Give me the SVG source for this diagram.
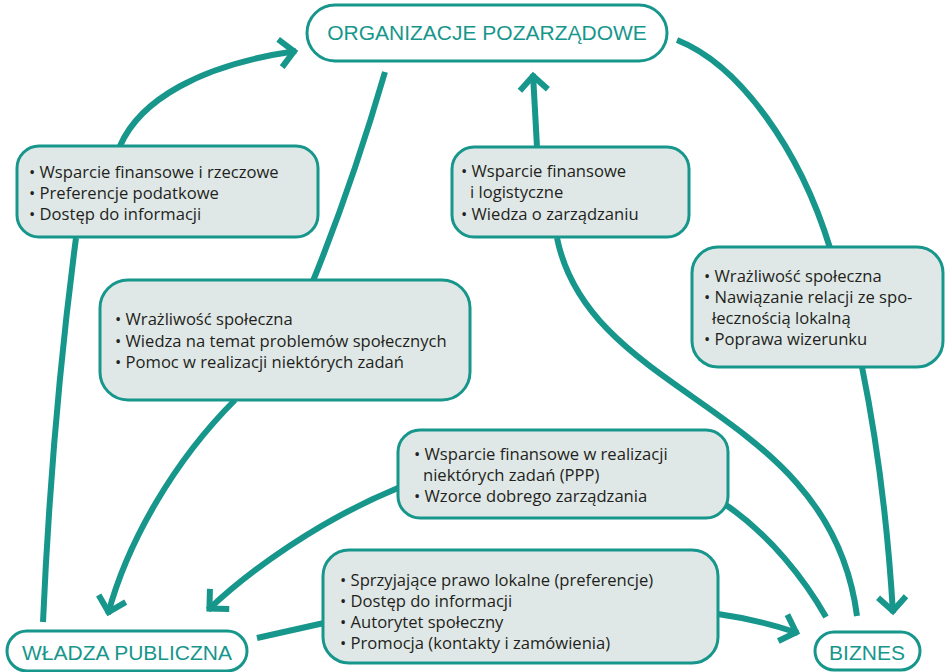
<svg xmlns="http://www.w3.org/2000/svg" width="945" height="672" viewBox="0 0 945 672">
  <style>
    .hub { fill: #ffffff; stroke: #17968c; stroke-width: 3; }
    .hub-label { font-family: "Liberation Sans", Arial, sans-serif; font-size: 21px; fill: #17968c; }
    .box { fill: #dfe8e6; stroke: #17968c; stroke-width: 3; }
    .item { font-family: "Open Sans", "Noto Sans", sans-serif; font-size: 16.6px; fill: #231f20; }
    .link { fill: none; stroke: #17968c; stroke-width: 6; }
  </style>
  <defs>
    <marker id="chevron" markerUnits="userSpaceOnUse" markerWidth="44" markerHeight="44" viewBox="-22 -22 44 44" refX="2" refY="0" orient="auto">
      <path d="M-14,-14 L0,0 L-14,14" fill="none" stroke="#17968c" stroke-width="6" stroke-linejoin="miter"/>
    </marker>
  </defs>

  <!-- connectors -->
  <g id="connectors">
    <path class="link" d="M120,146 C140,100 200,65 296,51" marker-end="url(#chevron)"/>
    <path class="link" d="M43,622 Q52,420 76,238"/>
    <path class="link" d="M385,72 Q352,185 313,281"/>
    <path class="link" d="M235,400 C175,460 128,540 108,614" marker-end="url(#chevron)"/>
    <path class="link" d="M398,488 C320,520 250,570 208,610" marker-end="url(#chevron)"/>
    <path class="link" d="M257,638 L324,623"/>
    <path class="link" d="M718,614 Q760,620 798,633" marker-end="url(#chevron)"/>
    <path class="link" d="M726,505 C770,535 805,580 826,617"/>
    <path class="link" d="M557,238 C590,400 830,405 857,616"/>
    <path class="link" d="M677,40 C740,65 800,150 830,248"/>
    <path class="link" d="M862,367 Q885,480 893,613" marker-end="url(#chevron)"/>
    <path class="link" d="M537,147 Q535,110 533,74" marker-end="url(#chevron)"/>
  </g>

  <!-- hub nodes -->
  <g id="ngo">
    <rect class="hub" x="307" y="5" width="360" height="56" rx="28"/>
    <text class="hub-label" x="487" y="40" text-anchor="middle">ORGANIZACJE POZARZĄDOWE</text>
  </g>
  <g id="public-authority">
    <rect class="hub" x="7" y="631" width="240" height="40" rx="20"/>
    <text class="hub-label" x="127" y="660" text-anchor="middle">WŁADZA PUBLICZNA</text>
  </g>
  <g id="business">
    <rect class="hub" x="815" y="632" width="105" height="38" rx="19"/>
    <text class="hub-label" x="867" y="660" text-anchor="middle">BIZNES</text>
  </g>

  <!-- benefit boxes -->
  <g id="gov-to-ngo">
    <rect class="box" x="17" y="146" width="301" height="91" rx="22"/>
    <text class="item" x="29" y="178">• Wsparcie finansowe i rzeczowe</text>
    <text class="item" x="29" y="199">• Preferencje podatkowe</text>
    <text class="item" x="29" y="220">• Dostęp do informacji</text>
  </g>
  <g id="ngo-to-gov">
    <rect class="box" x="100" y="280" width="370" height="120" rx="28"/>
    <text class="item" x="115" y="325">• Wrażliwość społeczna</text>
    <text class="item" x="115" y="347">• Wiedza na temat problemów społecznych</text>
    <text class="item" x="115" y="368">• Pomoc w realizacji niektórych zadań</text>
  </g>
  <g id="business-to-ngo">
    <rect class="box" x="452" y="147" width="237" height="90" rx="22"/>
    <text class="item" x="461" y="177">• Wsparcie finansowe</text>
    <text class="item" x="470" y="198">i logistyczne</text>
    <text class="item" x="461" y="220">• Wiedza o zarządzaniu</text>
  </g>
  <g id="ngo-to-business">
    <rect class="box" x="692" y="247" width="251" height="120" rx="26"/>
    <text class="item" x="704" y="282">• Wrażliwość społeczna</text>
    <text class="item" x="704" y="303">• Nawiązanie relacji ze spo-</text>
    <text class="item" x="712" y="324">łecznością lokalną</text>
    <text class="item" x="704" y="345">• Poprawa wizerunku</text>
  </g>
  <g id="business-to-gov">
    <rect class="box" x="398" y="430" width="330" height="88" rx="22"/>
    <text class="item" x="414" y="460">• Wsparcie finansowe w realizacji</text>
    <text class="item" x="423" y="481">niektórych zadań (PPP)</text>
    <text class="item" x="414" y="502">• Wzorce dobrego zarządzania</text>
  </g>
  <g id="gov-to-business">
    <rect class="box" x="323" y="550" width="395" height="113" rx="26"/>
    <text class="item" x="340" y="586">• Sprzyjające prawo lokalne (preferencje)</text>
    <text class="item" x="340" y="607">• Dostęp do informacji</text>
    <text class="item" x="340" y="628">• Autorytet społeczny</text>
    <text class="item" x="340" y="649">• Promocja (kontakty i zamówienia)</text>
  </g>
</svg>
